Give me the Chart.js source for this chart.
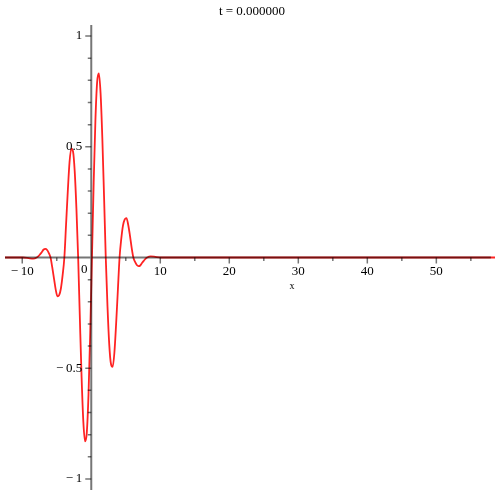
<!DOCTYPE html>
<html>
<head>
<meta charset="utf-8">
<script src="https://cdn.jsdelivr.net/npm/chart.js@4.4.1/dist/chart.umd.min.js"></script>
<style>
  html, body { margin: 0; padding: 0; background: #fff; }
  #wrap { width: 500px; height: 500px; }
</style>
</head>
<body>
<div id="wrap"><canvas id="chart"></canvas></div>
<script>
// Curve samples (wave packet at t = 0)
const xs = [-12.5, -9.9, -8.9, -8.4, -7.9, -7.65, -7.4, -7.15, -6.9, -6.65, -6.4, -6.15,
    -5.9, -5.65, -5.4, -5.15, -4.9, -4.65, -4.4, -4.15, -3.9, -3.65, -3.4, -3.15,
    -2.9, -2.65, -2.4, -2.15, -1.9, -1.65, -1.4, -1.15, -0.9, -0.65, -0.4, -0.15,
    0.1, 0.35, 0.6, 0.85, 1.1, 1.35, 1.6, 1.85, 2.1, 2.35, 2.6, 2.85,
    3.1, 3.35, 3.6, 3.85, 4.1, 4.35, 4.6, 4.85, 5.1, 5.35, 5.6, 5.85,
    6.1, 6.35, 6.6, 6.85, 7.1, 7.35, 7.6, 7.85, 8.1, 8.6, 9.1, 10.1, 58.5];
const ys = [0, 0, -0.004, -0.005, 0, 0.006, 0.015, 0.025, 0.036, 0.039, 0.034, 0.02,
    0, -0.045, -0.095, -0.145, -0.175, -0.17, -0.14, -0.08, 0, 0.15, 0.3, 0.43,
    0.492, 0.48, 0.39, 0.22, 0, -0.278, -0.542, -0.741, -0.83, -0.792, -0.619, -0.339,
    0, 0.339, 0.619, 0.792, 0.831, 0.741, 0.542, 0.278, 0, -0.22, -0.39, -0.48,
    -0.494, -0.43, -0.3, -0.15, 0, 0.085, 0.145, 0.172, 0.178, 0.148, 0.1, 0.045,
    0, -0.02, -0.034, -0.039, -0.036, -0.025, -0.015, -0.006, 0, 0.005, 0.004, 0, 0];

// Axis ticks and labels
const xMajorTicks = [-10, 10, 20, 30, 40, 50];
const xTickLabels = ['\u2212\u200910', '10', '20', '30', '40', '50'];
const xMinorTicks = [-5, 5, 15, 25, 35, 45, 55];
const yMajorTicks = [1, 0.5, -0.5, -1];
const yTickLabels = ['1', '0.5', '\u2212\u20090.5', '\u2212\u20091'];
const yMinorTicks = [0.9, 0.8, 0.7, 0.6, 0.4, 0.3, 0.2, 0.1,
    -0.1, -0.2, -0.3, -0.4, -0.6, -0.7, -0.8, -0.9];
const titleText = 't = 0.000000';
const xAxisTitle = 'x';

const COLORS = {
    curve: 'rgb(255, 35, 35)',
    axis: 'rgb(118, 118, 118)',
    text: '#000000'
};
const FONT = "'Liberation Serif', 'Times New Roman', serif";
const X_AXIS_END = 57.9;

/**
 * Maple-style axes crossing at the origin
 */
const mapleAxes = {
    id: 'mapleAxes',
    afterDatasetsDraw(chart) {
        const ctx = chart.ctx;
        const sx = chart.scales.x;
        const sy = chart.scales.y;
        const ox = sx.getPixelForValue(0);
        const oy = sy.getPixelForValue(0);

        ctx.save();
        // multiply so the curve lying on the axis turns dark red
        ctx.globalCompositeOperation = 'multiply';
        ctx.strokeStyle = COLORS.axis;
        ctx.lineWidth = 2;
        ctx.beginPath();
        ctx.moveTo(sx.left, oy);
        ctx.lineTo(sx.getPixelForValue(X_AXIS_END), oy);
        ctx.moveTo(ox, sy.top);
        ctx.lineTo(ox, sy.bottom);
        ctx.stroke();

        ctx.lineWidth = 1.5;
        ctx.beginPath();
        xMajorTicks.forEach(v => {
            const px = sx.getPixelForValue(v);
            ctx.moveTo(px, oy);
            ctx.lineTo(px, oy + 6);
        });
        xMinorTicks.forEach(v => {
            const px = sx.getPixelForValue(v);
            ctx.moveTo(px, oy);
            ctx.lineTo(px, oy + 3.5);
        });
        yMajorTicks.forEach(v => {
            const py = sy.getPixelForValue(v);
            ctx.moveTo(ox, py);
            ctx.lineTo(ox - 6, py);
        });
        yMinorTicks.forEach(v => {
            const py = sy.getPixelForValue(v);
            ctx.moveTo(ox, py);
            ctx.lineTo(ox - 3.5, py);
        });
        ctx.stroke();
        ctx.restore();

        // Labels
        ctx.save();
        ctx.fillStyle = COLORS.text;
        ctx.font = `13px ${FONT}`;
        ctx.textAlign = 'center';
        ctx.textBaseline = 'middle';
        xMajorTicks.forEach((v, i) => {
            ctx.fillText(xTickLabels[i], sx.getPixelForValue(v), oy + 14);
        });
        ctx.fillText('0', ox - 7, oy + 12);

        ctx.textAlign = 'right';
        yMajorTicks.forEach((v, i) => {
            ctx.fillText(yTickLabels[i], ox - 9, sy.getPixelForValue(v));
        });

        ctx.textAlign = 'center';
        ctx.font = `10px ${FONT}`;
        ctx.fillText(xAxisTitle, sx.getPixelForValue(29.1), oy + 29);

        ctx.font = `13px ${FONT}`;
        ctx.fillText(titleText, (sx.left + sx.right) / 2 + 2, 12);
        ctx.restore();
    }
};

const chart = new Chart(document.getElementById('chart'), {
    type: 'scatter',
    data: {
        datasets: [{
            data: xs.map((x, i) => ({ x: x, y: ys[i] })),
            showLine: true,
            borderColor: COLORS.curve,
            borderWidth: 1.8,
            pointRadius: 0,
            cubicInterpolationMode: 'monotone',
            fill: false
        }]
    },
    options: {
        responsive: true,
        maintainAspectRatio: false,
        animation: false,
        layout: {
            padding: { top: 25, bottom: 10, left: 5, right: 5 }
        },
        plugins: {
            legend: { display: false },
            tooltip: { enabled: false }
        },
        scales: {
            x: { type: 'linear', min: -12.5, max: 58.5, display: false },
            y: { type: 'linear', min: -1.05, max: 1.05, display: false }
        }
    },
    plugins: [mapleAxes]
});
</script>
</body>
</html>
